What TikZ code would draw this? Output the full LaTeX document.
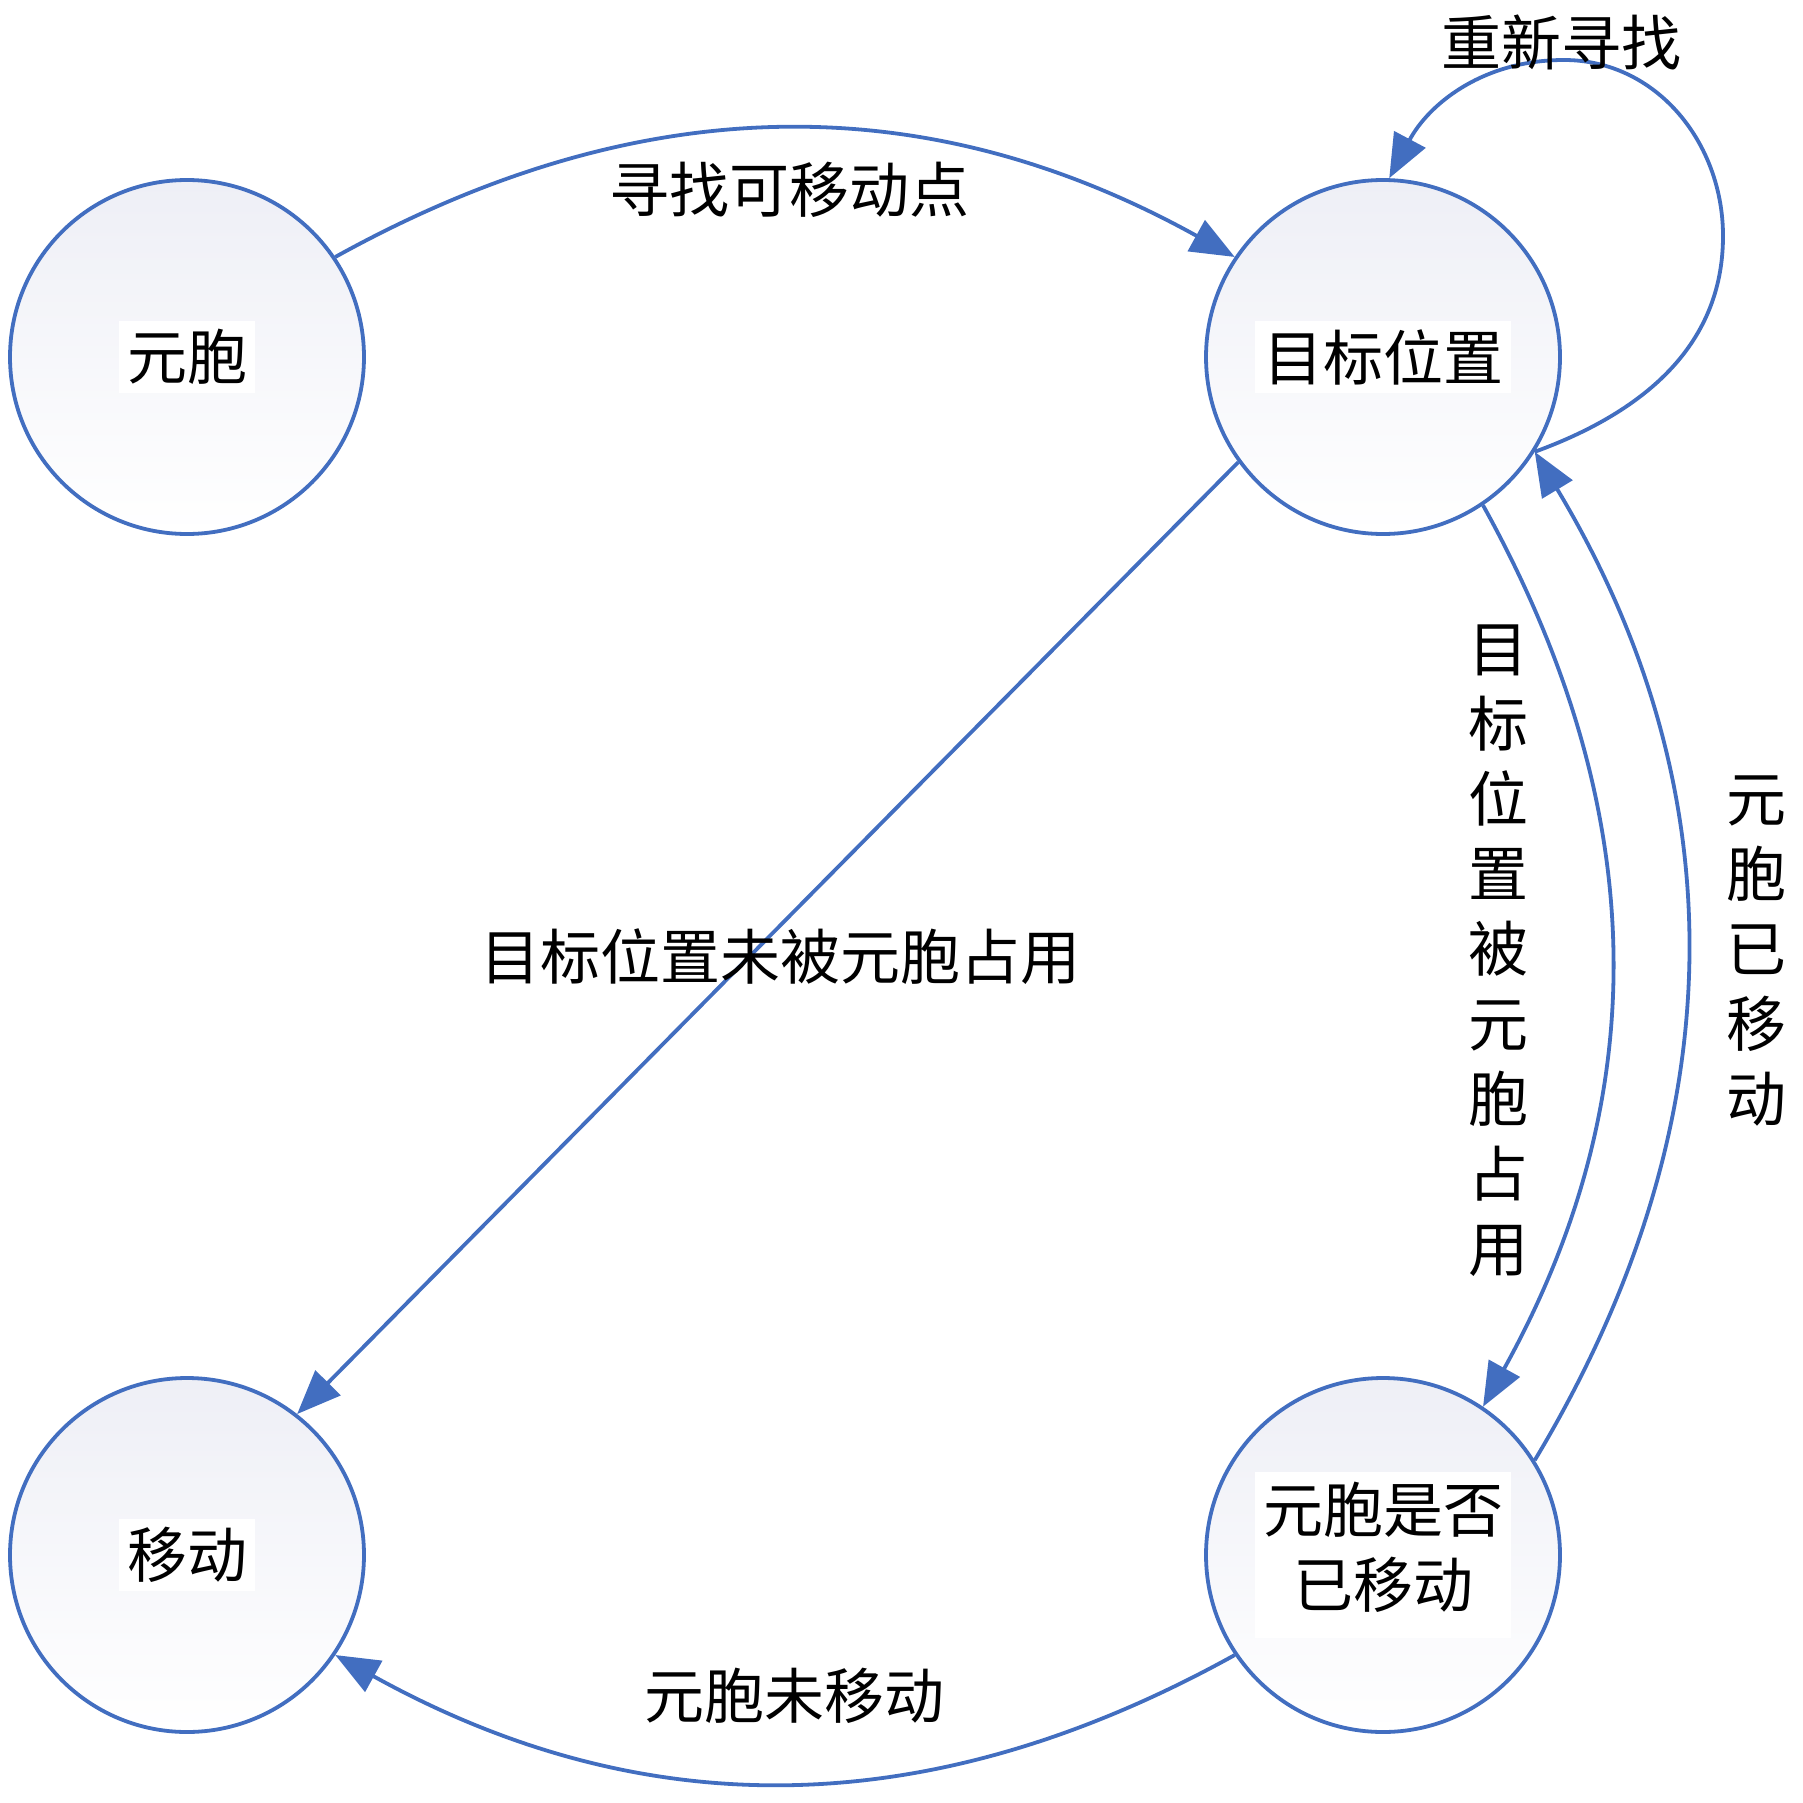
\documentclass[tikz,border=0pt]{standalone}
\usepackage{fontspec}
\setmainfont{Noto Sans CJK SC}
\usetikzlibrary{arrows.meta}
\definecolor{eblue}{RGB}{66,110,192}
\definecolor{cfill}{RGB}{238,239,246}
\begin{document}
\begin{tikzpicture}[x=1pt,y=1pt,
  state/.style={circle, draw=eblue, line width=3.8pt, minimum size=354pt, inner sep=0pt,
    top color=cfill, bottom color=white, text=black},
  conn/.style={draw=eblue, line width=3.8pt, -{Triangle[length=44pt,width=35pt]}},
  lbl/.style={inner sep=0pt, text=black},
  font=\fontsize{60}{75}\selectfont]
\useasboundingbox (0,0) rectangle (1803,-1803);
\setlength{\fboxsep}{8pt}
% states
\node[state] (A) at (187,-357) {\colorbox{white}{元胞}};
\node[state] (B) at (1383,-357) {\colorbox{white}{目标位置}};
\node[state] (C) at (187,-1555) {\colorbox{white}{移动}};
\node[state] (D) at (1383,-1555) {\colorbox{white}{\begin{tabular}{@{}c@{}}元胞是否\\已移动\end{tabular}}};
% loop helper points
\coordinate (loopR) at (1723,-236);
\coordinate (loopT) at (1564,-60);
% connectors
\draw[conn] (A.34) to[bend left=29] (B.146);
\draw[conn] (B.-32) to[out=20,in=-90] (loopR) to[out=90,in=0] (loopT) to[out=180,in=62] (B.88);
\draw[conn] (B.-144) -- (C.52);
\draw[conn] (B.-56) to[bend left=29] (D.56);
\draw[conn] (D.32) to[bend right=31] (B.-32);
\draw[conn] (D.-146) to[bend left=29] (C.-34);
% labels
\node[lbl] (l1) at (789,-190) {寻找可移动点};
\node[lbl] (l2) at (1561,-43) {重新寻找};
\node[lbl] (l3) at (780,-957) {目标位置未被元胞占用};
\node[lbl, align=center] (l4) at (1498,-951) {目\\标\\位\\置\\被\\元\\胞\\占\\用};
\node[lbl, align=center] (l5) at (1756,-951) {元\\胞\\已\\移\\动};
\node[lbl] (l6) at (794,-1696) {元胞未移动};
\end{tikzpicture}
\end{document}
